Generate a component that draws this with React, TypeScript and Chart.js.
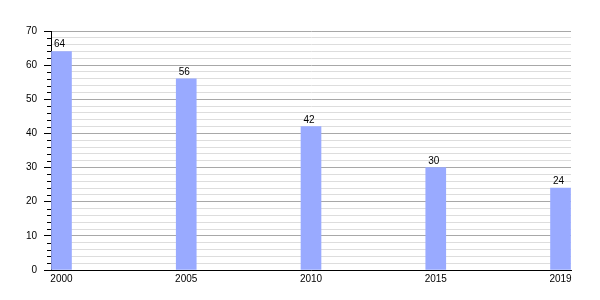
import React, { useEffect, useRef } from "react";
import { Chart, registerables } from "chart.js";

Chart.register(...registerables);

const years = ["2000", "2005", "2010", "2015", "2019"];
const values = [64, 56, 42, 30, 24];
const yMax = 70;

const valueLabels = {
  id: "valueLabels",
  afterDatasetsDraw(chart: any) {
    const ctx = chart.ctx;
    const meta = chart.getDatasetMeta(0);
    ctx.save();
    ctx.font = "10px 'Liberation Sans', Arial, sans-serif";
    ctx.fillStyle = "#000";
    ctx.textAlign = "center";
    ctx.textBaseline = "alphabetic";
    meta.data.forEach((el: any, i: number) => {
      ctx.fillText(String(values[i]), el.x - 2, el.y - 4);
    });
    // minor tick marks on y axis
    const ys = chart.scales.y;
    const left = chart.chartArea.left;
    ctx.strokeStyle = "#000";
    ctx.lineWidth = 1;
    ctx.beginPath();
    ys.ticks.forEach((t: any) => {
      if (t.value % 10 !== 0) {
        const py = Math.round(ys.getPixelForValue(t.value)) + 0.5;
        ctx.moveTo(left - 4, py);
        ctx.lineTo(left, py);
      }
    });
    ctx.stroke();
    ctx.restore();
  },
};

export default function App() {
  const ref = useRef<HTMLCanvasElement>(null);
  useEffect(() => {
    document.body.style.margin = "0";
    const chart = new Chart(ref.current!, {
      type: "bar",
      data: {
        datasets: [
          {
            data: values.map((v, i) => ({ x: i, y: v })),
            backgroundColor: "#99AAFF",
            borderWidth: 0,
            barThickness: 20,
          },
        ],
      },
      options: {
        animation: false,
        responsive: false,
        maintainAspectRatio: false,
        layout: { padding: { top: 31, right: 29, left: 0, bottom: 0 } },
        plugins: { legend: { display: false }, tooltip: { enabled: false } },
        scales: {
          x: {
            type: "linear",
            offset: false,
            min: -0.084,
            max: 4.084,
            grid: { display: false, offset: false, drawTicks: false },
            border: { display: true, color: "#000", width: 1 },
            afterBuildTicks: (axis: any) => {
              axis.ticks = years.map((_, i) => ({ value: i }));
            },
            afterFit: (axis: any) => {
              axis.height = 30;
            },
            ticks: {
              autoSkip: false,
              maxRotation: 0,
              padding: 3,
              color: "#000",
              font: { family: "'Liberation Sans', Arial, sans-serif", size: 10 },
              callback: (v: any) => years[v] ?? "",
            },
          },
          y: {
            min: 0,
            max: yMax,
            afterFit: (axis: any) => {
              axis.width = 51;
            },
            border: { display: true, color: "#000", width: 1 },
            grid: {
              color: (c: any) => (c.tick && c.tick.value % 10 === 0 ? "#A8A8A8" : "#DDDDDD"),
              tickColor: (c: any) => (c.tick && c.tick.value % 10 === 0 ? "#000" : "rgba(0,0,0,0)"),
              tickLength: 7,
            },
            ticks: {
              stepSize: 2,
              autoSkip: false,
              padding: 7,
              color: "#000",
              font: { family: "'Liberation Sans', Arial, sans-serif", size: 10 },
              callback: (v: any) => (v % 10 === 0 ? String(v) : ""),
            },
          },
        },
      },
      plugins: [valueLabels],
    });
    return () => chart.destroy();
  }, []);
  return (
    <div style={{ width: 600, height: 300 }}>
      <canvas ref={ref} width={600} height={300} />
    </div>
  );
}
